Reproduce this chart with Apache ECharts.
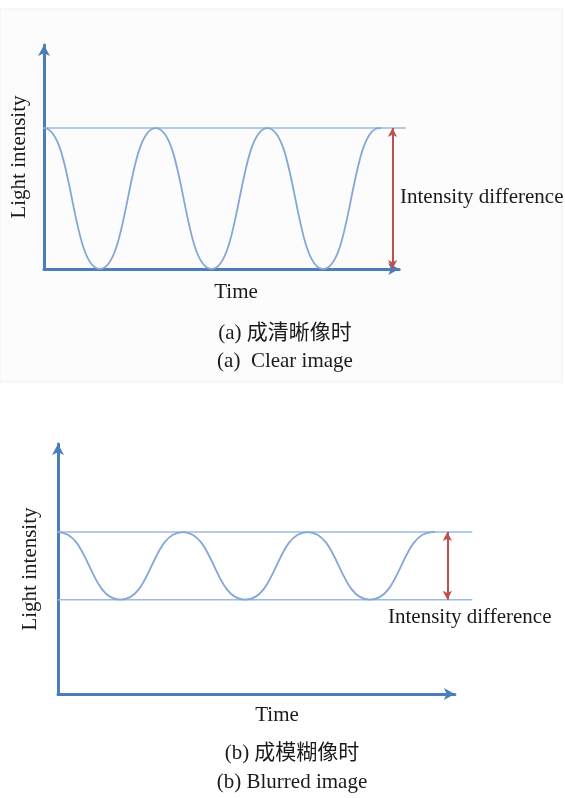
<!DOCTYPE html>
<html>
<head>
<meta charset="utf-8">
<script src="https://cdn.jsdelivr.net/npm/echarts@6/dist/echarts.min.js"></script>
<style>
html,body{margin:0;padding:0;background:#ffffff;}
#chart{width:565px;height:798px;}
</style>
</head>
<body>
<div id="chart"></div>
<script>
// ---- Data (arbitrary units) ----
// Wave extremes (peaks / troughs); the outer points only shape the curve ends and are clipped away
var timeA = [-0.5, 0, 0.5, 1, 1.5, 2, 2.5, 3, 3.5];
var intensityA = [0, 1, 0, 1, 0, 1, 0, 1, 0];
var levelsA = [1];
var levelEndA = 3.24;
var diffA = [0, 1];

var timeB = [-0.5, 0, 0.5, 1, 1.5, 2, 2.5, 3, 3.5];
var intensityB = [0.6, 1.03, 0.6, 1.03, 0.6, 1.03, 0.6, 1.03, 0.6];
var levelsB = [1.03, 0.6];
var levelEndB = 3.32;
var diffB = [0.6, 1.03];

var waveEnd = 3;
var arrowX = 3.12;
var xMax = 3.18;
var yMax = 1.59;
var yName = 'Light intensity';
var xName = 'Time';
var diffLabel = 'Intensity difference';
var captionsA = ['(a) 成清晰像时', '(a)  Clear image'];
var captionsB = ['(b) 成模糊像时', '(b) Blurred image'];

// ---- Layout / style ----
var FONT = '"Liberation Serif","Times New Roman","Noto Sans CJK SC",serif';
var FS = 21;
var AXIS_BLUE = '#4a7ebb';
var WAVE_BLUE = '#84a7d8';
var LEVEL_BLUE = '#9dbbe2';
var RED = '#c0504d';
var uxA = 111.7, uxB = 124.8;      // pixels per time unit
var panelA = {left:44, top:45, height:224};
var panelB = {left:58, top:444, height:250};

function zip(xs, ys){ return xs.map(function(x,i){ return [x, ys[i]]; }); }

function grid(p, width){ return {left:p.left, top:p.top, width:width, height:p.height}; }

function xAx(idx, max, visible){
  return {
    type:'value', gridIndex:idx, min:0, max:max, show:visible,
    axisLine:{show:visible, onZero:false, symbol:['none','arrow'], symbolSize:[9,11],
      lineStyle:{color:AXIS_BLUE, width:3}},
    axisTick:{show:false}, axisLabel:{show:false}, splitLine:{show:false}
  };
}
function yAx(idx, visible, gap){
  var a = {
    type:'value', gridIndex:idx, min:0, max:yMax, show:visible,
    axisLine:{show:visible, onZero:false, symbol:['none','arrow'], symbolSize:[9,11],
      lineStyle:{color:AXIS_BLUE, width:3}},
    axisTick:{show:false}, axisLabel:{show:false}, splitLine:{show:false}
  };
  if (visible){
    a.name = yName; a.nameLocation = 'middle'; a.nameGap = gap;
    a.nameTextStyle = {fontFamily:FONT, fontSize:FS, color:'#1a1a1a'};
  }
  return a;
}
function waveSeries(idx, xs, ys){
  return {type:'line', xAxisIndex:idx, yAxisIndex:idx, data:zip(xs,ys), smooth:true,
    clip:true, symbol:'none', silent:true, z:3, lineStyle:{color:WAVE_BLUE, width:1.8}};
}
function levelSeries(idx, y, end, diff){
  var s = {
    type:'line', xAxisIndex:idx, yAxisIndex:idx,
    data:[[0,y],[end,y]], symbol:'none', silent:true, z:2,
    lineStyle:{color:LEVEL_BLUE, width:1.5}
  };
  if (diff){
    s.markLine = {
      silent:true, symbol:['arrow','arrow'], symbolSize:[7,9],
      label:{show:false},
      lineStyle:{color:RED, width:2, type:'solid'},
      data:[[{coord:[arrowX, diff[0]]},{coord:[arrowX, diff[1]]}]]
    };
  }
  return s;
}
function text(str, x, y, align){
  return {type:'text', x:x, y:y, z:10,
    style:{text:str, fontFamily:FONT, fontSize:FS, fill:'#1a1a1a',
      textAlign:align||'center', textVerticalAlign:'middle'}};
}

var chart = echarts.init(document.getElementById('chart'), null, {renderer:'canvas'});

chart.setOption({
  backgroundColor:'#ffffff',
  animation:false,
  grid:[
    grid(panelA, xMax*uxA),       // 0: axes (a)
    grid(panelA, waveEnd*uxA),    // 1: wave (a)
    grid(panelA, levelEndA*uxA),  // 2: levels (a)
    grid(panelB, xMax*uxB),       // 3: axes (b)
    grid(panelB, waveEnd*uxB),    // 4: wave (b)
    grid(panelB, levelEndB*uxB)   // 5: levels (b)
  ],
  xAxis:[xAx(0,xMax,true), xAx(1,waveEnd,false), xAx(2,levelEndA,false),
         xAx(3,xMax,true), xAx(4,waveEnd,false), xAx(5,levelEndB,false)],
  yAxis:[yAx(0,true,14), yAx(1,false), yAx(2,false),
         yAx(3,true,17), yAx(4,false), yAx(5,false)],
  series:[
    waveSeries(1, timeA, intensityA),
    levelSeries(2, levelsA[0], levelEndA, diffA),
    waveSeries(4, timeB, intensityB),
    levelSeries(5, levelsB[0], levelEndB, diffB),
    levelSeries(5, levelsB[1], levelEndB, null)
  ],
  graphic:[
    {type:'rect', z:-10, silent:true, shape:{x:0, y:9, width:562, height:373},
     style:{fill:'#fcfcfc', stroke:'#f0f0f0', lineWidth:1}},
    text(diffLabel, 400, 197, 'left'),
    text(xName, 236, 292),
    text(captionsA[0], 285, 333),
    text(captionsA[1], 285, 361),
    text(diffLabel, 388, 617, 'left'),
    text(xName, 277, 715),
    text(captionsB[0], 292, 753),
    text(captionsB[1], 292, 782)
  ]
});
</script>
</body>
</html>
